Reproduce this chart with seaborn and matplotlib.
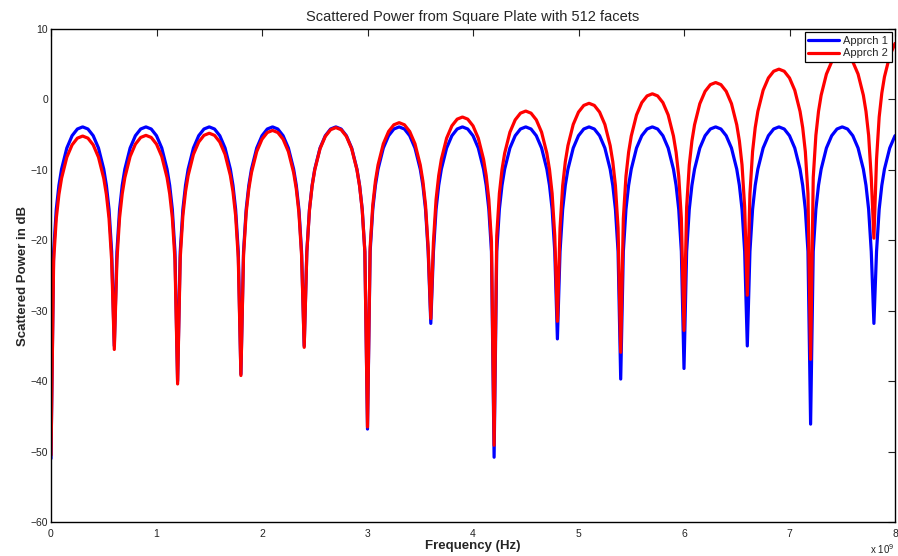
import matplotlib
matplotlib.use("Agg")
import matplotlib.pyplot as plt
import seaborn as sns
import pandas as pd

# Frequency samples (units of 1e9 Hz), grouped per lobe (nulls every 0.6e9 Hz)
freq_ghz = [
    0.0, 0.025, 0.05, 0.075, 0.1, 0.15, 0.2, 0.25, 0.3, 0.35, 0.4, 0.45, 0.5, 0.525, 0.55, 0.575,
    0.6, 0.625, 0.65, 0.675, 0.7, 0.75, 0.8, 0.85, 0.9, 0.95, 1.0, 1.05, 1.1, 1.125, 1.15, 1.175,
    1.2, 1.225, 1.25, 1.275, 1.3, 1.35, 1.4, 1.45, 1.5, 1.55, 1.6, 1.65, 1.7, 1.725, 1.75, 1.775,
    1.8, 1.825, 1.85, 1.875, 1.9, 1.95, 2.0, 2.05, 2.1, 2.15, 2.2, 2.25, 2.3, 2.325, 2.35, 2.375,
    2.4, 2.425, 2.45, 2.475, 2.5, 2.55, 2.6, 2.65, 2.7, 2.75, 2.8, 2.85, 2.9, 2.925, 2.95, 2.975,
    3.0, 3.025, 3.05, 3.075, 3.1, 3.15, 3.2, 3.25, 3.3, 3.35, 3.4, 3.45, 3.5, 3.525, 3.55, 3.575,
    3.6, 3.625, 3.65, 3.675, 3.7, 3.75, 3.8, 3.85, 3.9, 3.95, 4.0, 4.05, 4.1, 4.125, 4.15, 4.175,
    4.2, 4.225, 4.25, 4.275, 4.3, 4.35, 4.4, 4.45, 4.5, 4.55, 4.6, 4.65, 4.7, 4.725, 4.75, 4.775,
    4.8, 4.825, 4.85, 4.875, 4.9, 4.95, 5.0, 5.05, 5.1, 5.15, 5.2, 5.25, 5.3, 5.325, 5.35, 5.375,
    5.4, 5.425, 5.45, 5.475, 5.5, 5.55, 5.6, 5.65, 5.7, 5.75, 5.8, 5.85, 5.9, 5.925, 5.95, 5.975,
    6.0, 6.025, 6.05, 6.075, 6.1, 6.15, 6.2, 6.25, 6.3, 6.35, 6.4, 6.45, 6.5, 6.525, 6.55, 6.575,
    6.6, 6.625, 6.65, 6.675, 6.7, 6.75, 6.8, 6.85, 6.9, 6.95, 7.0, 7.05, 7.1, 7.125, 7.15, 7.175,
    7.2, 7.225, 7.25, 7.275, 7.3, 7.35, 7.4, 7.45, 7.5, 7.55, 7.6, 7.65, 7.7, 7.725, 7.75, 7.775,
    7.8, 7.825, 7.85, 7.875, 7.9, 7.95, 8.0,
]

# Approach 1 (blue), dB
apprch1_db = [
    -51.0, -21.6, -15.6, -12.2, -9.9, -6.9, -5.15, -4.2, -3.9, -4.2, -5.15, -6.9, -9.9, -12.2, -15.6, -21.6,
    -35.0, -21.6, -15.6, -12.2, -9.9, -6.9, -5.15, -4.2, -3.9, -4.2, -5.15, -6.9, -9.9, -12.2, -15.6, -21.6,
    -40.0, -21.6, -15.6, -12.2, -9.9, -6.9, -5.15, -4.2, -3.9, -4.2, -5.15, -6.9, -9.9, -12.2, -15.6, -21.6,
    -39.0, -21.6, -15.6, -12.2, -9.9, -6.9, -5.15, -4.2, -3.9, -4.2, -5.15, -6.9, -9.9, -12.2, -15.6, -21.6,
    -35.0, -21.6, -15.6, -12.2, -9.9, -6.9, -5.15, -4.2, -3.9, -4.2, -5.15, -6.9, -9.9, -12.2, -15.6, -21.6,
    -46.8, -21.6, -15.6, -12.2, -9.9, -6.9, -5.15, -4.2, -3.9, -4.2, -5.15, -6.9, -9.9, -12.2, -15.6, -21.6,
    -31.8, -21.6, -15.6, -12.2, -9.9, -6.9, -5.15, -4.2, -3.9, -4.2, -5.15, -6.9, -9.9, -12.2, -15.6, -21.6,
    -50.8, -21.6, -15.6, -12.2, -9.9, -6.9, -5.15, -4.2, -3.9, -4.2, -5.15, -6.9, -9.9, -12.2, -15.6, -21.6,
    -34.0, -21.6, -15.6, -12.2, -9.9, -6.9, -5.15, -4.2, -3.9, -4.2, -5.15, -6.9, -9.9, -12.2, -15.6, -21.6,
    -39.7, -21.6, -15.6, -12.2, -9.9, -6.9, -5.15, -4.2, -3.9, -4.2, -5.15, -6.9, -9.9, -12.2, -15.6, -21.6,
    -38.2, -21.6, -15.6, -12.2, -9.9, -6.9, -5.15, -4.2, -3.9, -4.2, -5.15, -6.9, -9.9, -12.2, -15.6, -21.6,
    -35.0, -21.6, -15.6, -12.2, -9.9, -6.9, -5.15, -4.2, -3.9, -4.2, -5.15, -6.9, -9.9, -12.2, -15.6, -21.6,
    -46.1, -21.6, -15.6, -12.2, -9.9, -6.9, -5.15, -4.2, -3.9, -4.2, -5.15, -6.9, -9.9, -12.2, -15.6, -21.6,
    -31.8, -21.6, -15.6, -12.2, -9.9, -6.9, -5.15,
]

# Approach 2 (red), dB
apprch2_db = [
    -50.5, -22.9, -16.9, -13.5, -11.2, -8.2, -6.45, -5.5, -5.2, -5.5, -6.45, -8.2, -11.2, -13.5, -16.9, -22.9,
    -35.5, -22.8, -16.8, -13.4, -11.1, -8.1, -6.35, -5.4, -5.1, -5.4, -6.35, -8.1, -11.1, -13.4, -16.8, -22.8,
    -40.4, -22.5, -16.5, -13.1, -10.8, -7.8, -6.05, -5.1, -4.8, -5.1, -6.05, -7.8, -10.8, -13.1, -16.5, -22.5,
    -39.2, -22.1, -16.1, -12.7, -10.4, -7.4, -5.65, -4.7, -4.4, -4.7, -5.65, -7.4, -10.4, -12.7, -16.1, -22.1,
    -35.2, -21.7, -15.7, -12.3, -10.0, -7.0, -5.25, -4.3, -4.0, -4.3, -5.25, -7.0, -10.0, -12.3, -15.7, -21.7,
    -46.5, -21.0, -15.0, -11.6, -9.3, -6.3, -4.55, -3.6, -3.3, -3.6, -4.55, -6.3, -9.3, -11.6, -15.0, -21.0,
    -31.1, -20.2, -14.2, -10.8, -8.5, -5.5, -3.75, -2.8, -2.5, -2.8, -3.75, -5.5, -8.5, -10.8, -14.2, -20.2,
    -49.1, -19.35, -13.35, -9.95, -7.65, -4.65, -2.9, -1.95, -1.65, -1.95, -2.9, -4.65, -7.65, -9.95, -13.35, -19.35,
    -31.5, -18.25, -12.25, -8.85, -6.55, -3.55, -1.8, -0.85, -0.55, -0.85, -1.8, -3.55, -6.55, -8.85, -12.25, -18.25,
    -35.9, -16.9, -10.9, -7.5, -5.2, -2.2, -0.45, 0.5, 0.8, 0.5, -0.45, -2.2, -5.2, -7.5, -10.9, -16.9,
    -32.8, -15.3, -9.3, -5.9, -3.6, -0.6, 1.15, 2.1, 2.4, 2.1, 1.15, -0.6, -3.6, -5.9, -9.3, -15.3,
    -27.8, -13.4, -7.4, -4.0, -1.7, 1.3, 3.05, 4.0, 4.3, 4.0, 3.05, 1.3, -1.7, -4.0, -7.4, -13.4,
    -36.9, -11.1, -5.1, -1.7, 0.6, 3.6, 5.35, 6.3, 6.6, 6.3, 5.35, 3.6, 0.6, -1.7, -5.1, -11.1,
    -19.7, -8.5, -2.5, 0.9, 3.2, 6.2, 7.95,
]

series_names = ["Apprch 1", "Apprch 2"]
series_colors = ["#0000ff", "#ff0000"]
x_ticks = [0, 1, 2, 3, 4, 5, 6, 7, 8]
y_ticks = [-60, -50, -40, -30, -20, -10, 0, 10]

df = pd.concat([
    pd.DataFrame({"freq": freq_ghz, "db": apprch1_db, "series": series_names[0]}),
    pd.DataFrame({"freq": freq_ghz, "db": apprch2_db, "series": series_names[1]}),
], ignore_index=True)

sns.set_style("white")
plt.rcParams["font.family"] = ["Liberation Sans", "DejaVu Sans"]
plt.rcParams["axes.unicode_minus"] = True

fig = plt.figure(figsize=(8.98, 5.56), dpi=100)
ax = fig.add_axes([51 / 898, 1 - 522 / 556, (895 - 51) / 898, (522 - 29) / 556])

sns.lineplot(data=df, x="freq", y="db", hue="series", palette=series_colors,
             estimator=None, sort=False, linewidth=2.3, ax=ax)

ax.set_xlim(0, 8)
ax.set_ylim(-60, 10)
ax.set_xticks(x_ticks)
ax.set_yticks(y_ticks)
ax.set_xticklabels([str(t) for t in x_ticks])
ax.set_yticklabels([str(t).replace("-", "\u2212") for t in y_ticks])
ax.tick_params(direction="in", length=5, width=0.8, top=True, right=True,
               labelsize=7.5, colors="#222222")
ax.tick_params(axis="x", pad=5)
ax.tick_params(axis="y", pad=2)
for s in ax.spines.values():
    s.set_visible(True)
    s.set_color("black")
    s.set_linewidth(1.0)

ax.set_title("Scattered Power from Square Plate with 512 facets", fontsize=10.5, pad=6)
ax.set_xlabel("Frequency (Hz)", fontsize=9.5, fontweight="bold", labelpad=1)
ax.set_ylabel("Scattered Power in dB", fontsize=9.5, fontweight="bold", labelpad=1)
fig.text(870 / 898, 1 - 549 / 556, "x 10$^{9}$", fontsize=7, va="center", ha="left", color="#222222")

leg = ax.legend(loc="upper right", fontsize=8, frameon=True, fancybox=False,
                edgecolor="black", framealpha=1, borderpad=0.3, labelspacing=0.25,
                handlelength=2.8, handletextpad=0.4, borderaxespad=0.3)
leg.get_frame().set_linewidth(0.9)
for line in leg.get_lines():
    line.set_linewidth(2.3)

fig.savefig("out.png", dpi=100)
